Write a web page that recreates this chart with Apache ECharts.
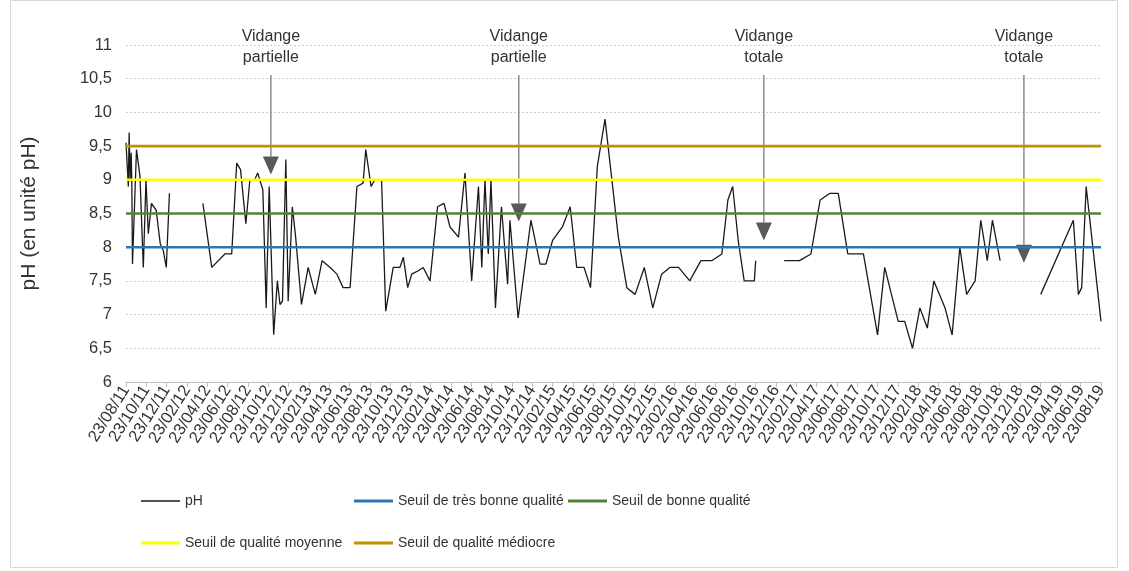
<!DOCTYPE html>
<html>
<head>
<meta charset="utf-8">
<script src="https://cdn.jsdelivr.net/npm/echarts@6/dist/echarts.min.js"></script>
<style>
  html, body { margin: 0; padding: 0; background: #ffffff; }
  #chart { width: 1129px; height: 571px; }
</style>
</head>
<body>
<div id="chart"></div>
<script>
// pH sampling dates; a null value marks a break in the monitoring record
const sampleDates = [
  '2011-08-23','2011-08-30','2011-09-02','2011-09-05','2011-09-08','2011-09-10','2011-09-12','2011-09-24',
  '2011-10-04','2011-10-14','2011-10-22','2011-10-29','2011-11-08','2011-11-22','2011-12-04','2011-12-13',
  '2011-12-22','2012-01-01','2012-02-20','2012-04-10','2012-05-06','2012-06-15','2012-07-05','2012-07-20',
  '2012-08-01','2012-08-17','2012-08-29','2012-09-13','2012-09-22','2012-10-07','2012-10-17','2012-10-26',
  '2012-11-09','2012-11-20','2012-11-28','2012-12-05','2012-12-15','2012-12-22','2013-01-04','2013-01-14',
  '2013-02-01','2013-02-21','2013-03-12','2013-04-02','2013-04-26','2013-05-16','2013-06-04','2013-06-25',
  '2013-07-15','2013-08-03','2013-08-11','2013-08-27','2013-09-08','2013-09-28','2013-10-10','2013-11-02',
  '2013-11-22','2013-12-02','2013-12-15','2013-12-27','2014-01-16','2014-01-31','2014-02-21','2014-03-13',
  '2014-04-02','2014-04-20','2014-05-15','2014-06-04','2014-06-24','2014-07-14','2014-07-24','2014-08-03',
  '2014-08-13','2014-08-21','2014-09-04','2014-09-22','2014-10-10','2014-10-17','2014-11-11','2014-12-19',
  '2015-01-16','2015-02-03','2015-02-23','2015-03-22','2015-04-15','2015-05-04','2015-05-26','2015-06-15',
  '2015-07-05','2015-07-28','2015-08-17','2015-09-07','2015-10-02','2015-10-27','2015-11-24','2015-12-19',
  '2016-01-15','2016-02-09','2016-03-05','2016-04-08','2016-05-11','2016-06-13','2016-07-13','2016-07-31',
  '2016-08-15','2016-09-01','2016-09-19','2016-10-19','2016-10-23','2016-12-10','2017-01-17','2017-03-02',
  '2017-04-06','2017-05-03','2017-06-02','2017-06-27','2017-07-25','2017-09-11','2017-10-23','2017-11-14',
  '2017-12-24','2018-01-13','2018-02-06','2018-02-28','2018-03-20','2018-04-09','2018-05-12','2018-06-03',
  '2018-06-26','2018-07-16','2018-08-11','2018-08-28','2018-09-17','2018-10-02','2018-10-25','2018-12-20',
  '2019-02-25','2019-06-01','2019-06-16','2019-06-26','2019-07-09','2019-07-19','2019-08-23'
];
const phValues = [
  9.55, 8.9, 9.7, 9.0, 9.4, 8.95, 7.75, 9.45,
  9.05, 7.7, 9.0, 8.2, 8.65, 8.55, 8.05, 7.95,
  7.7, 8.8, null, 8.65, 7.7, 7.9, 7.9, 9.25,
  9.15, 8.35, 9.0, 9.0, 9.1, 8.85, 7.1, 8.9,
  6.7, 7.5, 7.15, 7.2, 9.3, 7.2, 8.6, 8.15,
  7.15, 7.7, 7.3, 7.8, 7.7, 7.6, 7.4, 7.4,
  8.9, 8.95, 9.45, 8.9, 9.0, 9.0, 7.05, 7.7,
  7.7, 7.85, 7.4, 7.6, 7.65, 7.7, 7.5, 8.6,
  8.65, 8.3, 8.15, 9.1, 7.5, 8.9, 7.7, 9.0,
  7.9, 9.0, 7.1, 8.6, 7.45, 8.4, 6.95, 8.4,
  7.75, 7.75, 8.1, 8.3, 8.6, 7.7, 7.7, 7.4,
  9.2, 9.9, 9.05, 8.15, 7.4, 7.3, 7.7, 7.1,
  7.6, 7.7, 7.7, 7.5, 7.8, 7.8, 7.9, 8.7,
  8.9, 8.1, 7.5, 7.5, 7.8, null, 7.8, 7.8,
  7.9, 8.7, 8.8, 8.8, 7.9, 7.9, 6.7, 7.7,
  6.9, 6.9, 6.5, 7.1, 6.8, 7.5, 7.1, 6.7,
  8.0, 7.3, 7.5, 8.4, 7.8, 8.4, 7.8, null,
  7.3, 8.4, 7.3, 7.4, 8.9, 8.45, 6.9
];

// Quality thresholds (pH units)
const thresholdNames = [
  'Seuil de très bonne qualité',
  'Seuil de bonne qualité',
  'Seuil de qualité moyenne',
  'Seuil de qualité médiocre'
];
const thresholdValues = [8, 8.5, 9, 9.5];

// Tank draining events
const eventLabels = [
  ['Vidange', 'partielle'],
  ['Vidange', 'partielle'],
  ['Vidange', 'totale'],
  ['Vidange', 'totale']
];
const eventDates = ['2012-10-31', '2014-11-13', '2016-11-17', '2019-01-05'];
const eventArrowTips = [9.08, 8.38, 8.1, 7.77];

const axisStart = '2011-08-23';
const axisMonths = 96;

// ---- styling ----
const FONT = '"Liberation Sans", Arial, sans-serif';
const TEXT = '#333333';
const thresholdColors = ['#2e75b6', '#548235', '#ffff00', '#bf9000'];

const [y0, m0, d0] = axisStart.split('-').map(Number);
// months elapsed since the axis origin (fractional)
function monthIndex(s) {
  const [y, m, d] = s.split('-').map(Number);
  return (y - y0) * 12 + (m - m0) + (d - d0) / 30.44;
}
function pad(n) { return (n < 10 ? '0' : '') + n; }
function tickLabel(v) {
  const total = (m0 - 1) + Math.round(v);
  const yr = y0 + Math.floor(total / 12);
  const mo = (total % 12) + 1;
  return pad(d0) + '/' + pad(mo) + '/' + pad(yr % 100);
}

const phData = sampleDates.map((d, i) => [monthIndex(d), phValues[i] == null ? '-' : phValues[i]]);

const series = [{
  name: 'pH',
  type: 'line',
  data: phData,
  symbol: 'none',
  connectNulls: false,
  lineStyle: { color: '#1a1a1a', width: 1.3 },
  itemStyle: { color: '#1a1a1a' },
  z: 2
}].concat(thresholdNames.map((n, i) => ({
  name: n,
  type: 'line',
  data: [[0, thresholdValues[i]], [axisMonths, thresholdValues[i]]],
  symbol: 'none',
  lineStyle: { color: thresholdColors[i], width: 2.6 },
  itemStyle: { color: thresholdColors[i] },
  z: 3
})));

const legendSlots = [[141, 493], [354, 493], [568, 493], [141, 535], [354, 535]];
const legendNames = ['pH'].concat(thresholdNames);
const legendIconHeights = [1.5, 3, 3, 3, 3];

const chart = echarts.init(document.getElementById('chart'), null, { renderer: 'canvas' });
chart.setOption({
  animation: false,
  backgroundColor: '#ffffff',
  grid: { left: 126, right: 28, top: 45, bottom: 189, containLabel: false },
  xAxis: {
    type: 'value', min: 0, max: axisMonths, interval: 2,
    axisLine: { show: true, lineStyle: { color: '#bfbfbf', width: 1 } },
    axisTick: { show: true, length: 5, lineStyle: { color: '#bfbfbf' } },
    splitLine: { show: false },
    axisLabel: {
      rotate: 58, margin: 5, fontFamily: FONT, fontSize: 16.5, color: TEXT,
      formatter: tickLabel, showMinLabel: true, showMaxLabel: true
    }
  },
  yAxis: {
    type: 'value', min: 6, max: 11, interval: 0.5,
    name: 'pH (en unité pH)', nameLocation: 'middle', nameGap: 86,
    nameTextStyle: { fontFamily: FONT, fontSize: 21, color: TEXT },
    axisLine: { show: false }, axisTick: { show: false },
    splitLine: { lineStyle: { color: '#d0d0d0', type: [2, 2], width: 1 } },
    axisLabel: {
      margin: 14, fontFamily: FONT, fontSize: 16.5, color: TEXT,
      formatter: v => String(v).replace('.', ',')
    }
  },
  legend: legendNames.map((n, i) => ({
    data: [n], left: legendSlots[i][0], top: legendSlots[i][1],
    icon: 'rect', itemWidth: 39, itemHeight: legendIconHeights[i], padding: 0,
    textStyle: { fontFamily: FONT, fontSize: 14, color: TEXT, lineHeight: 16, padding: [0, 0, 0, 0] },
    selectedMode: false
  })),
  series: series
});

// Draining annotations: label, grey shaft and arrow head
const graphics = [{
  type: 'rect', silent: true,
  shape: { x: 10.5, y: 0.5, width: 1107, height: 567 },
  style: { fill: 'none', stroke: '#d9d9d9', lineWidth: 1 }
}];
eventDates.forEach((d, i) => {
  const [px, tipY] = chart.convertToPixel({ gridIndex: 0 }, [monthIndex(d), eventArrowTips[i]]);
  const headTop = tipY - 18;
  graphics.push({
    type: 'text', silent: true, x: px, y: 26,
    style: {
      text: eventLabels[i].join('\n'), align: 'center', verticalAlign: 'top',
      fontFamily: FONT, fontSize: 16, lineHeight: 21, fill: TEXT
    }
  });
  graphics.push({
    type: 'line', silent: true,
    shape: { x1: px, y1: 75, x2: px, y2: headTop },
    style: { stroke: '#8c8c8c', lineWidth: 1.5 }
  });
  graphics.push({
    type: 'polygon', silent: true,
    shape: { points: [[px - 8, headTop], [px + 8, headTop], [px, tipY]] },
    style: { fill: '#595959' }
  });
});
chart.setOption({ graphic: graphics });
</script>
</body>
</html>
